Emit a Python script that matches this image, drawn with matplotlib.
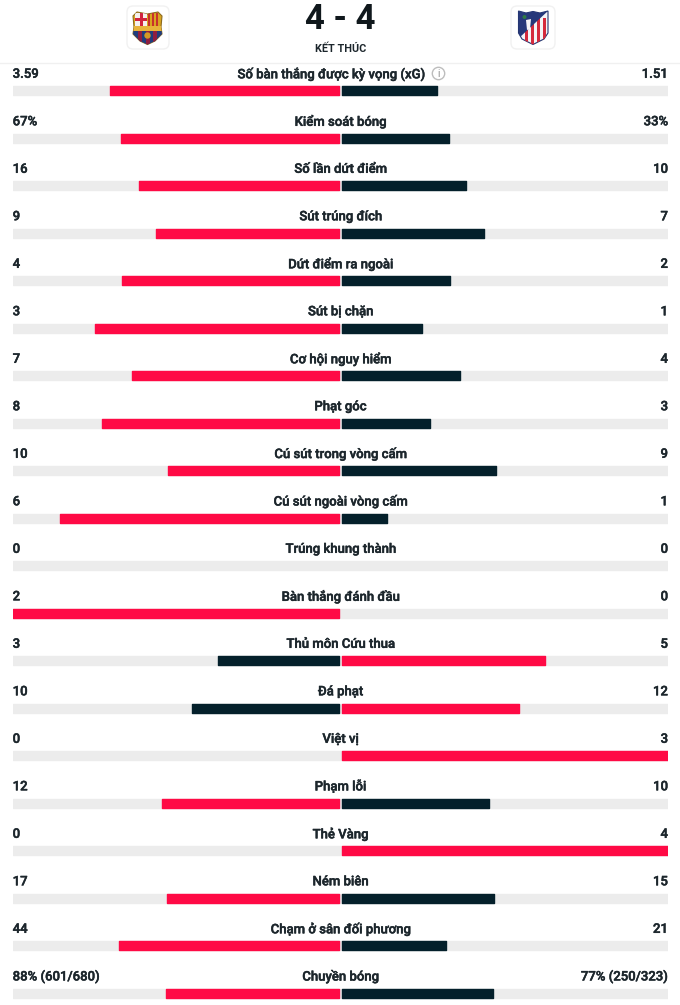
import matplotlib
matplotlib.use("Agg")
import matplotlib.pyplot as plt
import matplotlib.patheffects as pe
from matplotlib.patches import FancyBboxPatch, Polygon, Circle, Rectangle

plt.rcParams['font.family'] = ['Roboto', 'DejaVu Sans']

W, H = 680, 1005
categories = ["Số bàn thắng được kỳ vọng (xG)", "Kiểm soát bóng", "Số lần dứt điểm", "Sút trúng đích",
              "Dứt điểm ra ngoài", "Sút bị chặn", "Cơ hội nguy hiểm", "Phạt góc", "Cú sút trong vòng cấm",
              "Cú sút ngoài vòng cấm", "Trúng khung thành", "Bàn thắng đánh đầu", "Thủ môn Cứu thua", "Đá phạt",
              "Việt vị", "Phạm lỗi", "Thẻ Vàng", "Ném biên", "Chạm ở sân đối phương", "Chuyền bóng"]
home_values = [3.59, 67, 16, 9, 4, 3, 7, 8, 10, 6, 0, 2, 3, 10, 0, 12, 0, 17, 44, 88]
away_values = [1.51, 33, 10, 7, 2, 1, 4, 3, 9, 1, 0, 0, 5, 12, 3, 10, 4, 15, 21, 77]
home_labels = ["3.59", "67%", "16", "9", "4", "3", "7", "8", "10", "6", "0", "2", "3", "10", "0", "12", "0", "17", "44", "88% (601/680)"]
away_labels = ["1.51", "33%", "10", "7", "2", "1", "4", "3", "9", "1", "0", "0", "5", "12", "3", "10", "4", "15", "21", "77% (250/323)"]
home_score, away_score = 4, 4
status = "KẾT THÚC"

RED, DARK, TRACK, INK = "#ff0a45", "#04202b", "#ececec", "#1c262c"

fig = plt.figure(figsize=(W / 100, H / 100), dpi=100, facecolor="white")

# Page-level decoration drawn in pixel coordinates
bg = fig.add_axes([0, 0, 1, 1])
bg.set_xlim(0, W); bg.set_ylim(H, 0); bg.axis("off")
bg.plot([0, W], [62.5, 62.5], color="#f0f0f0", lw=1)
bg.text(340, 19.5, f"{home_score} - {away_score}", ha="center", va="center", fontsize=25,
        fontweight="bold", color="#10181c")
bg.text(340.5, 49, status, ha="center", va="center", fontsize=7.8, fontweight="bold", color=INK)

def card(x0, x1):
    bg.add_patch(FancyBboxPatch((x0 + 5, 11), x1 - x0 - 10, 33, boxstyle="round,pad=5,rounding_size=6",
                                fc="white", ec="#f1f1f1", lw=1))
card(127, 169)
card(511, 555)

def clipped(patch, clip):
    bg.add_patch(patch)
    patch.set_clip_path(clip)

# Barcelona crest
fcb = Polygon([(133, 16), (137, 12), (147.5, 14), (158, 12), (162, 16), (161, 27), (162, 34), (155, 41),
               (147.5, 44.5), (140, 41), (133, 34), (134, 27)], closed=True, fc="#d9a520", ec="#8c6a1e", lw=0.8)
bg.add_patch(fcb)
clipped(Rectangle((135, 13), 12, 14, fc="#f5f0ee", ec="none"), fcb)
clipped(Rectangle((139.5, 13), 3, 14, fc="#d1233f", ec="none"), fcb)
clipped(Rectangle((135, 18), 12, 3, fc="#d1233f", ec="none"), fcb)
for x in (148, 152, 156):
    clipped(Rectangle((x, 13), 2, 14, fc="#c8322b", ec="none"), fcb)
clipped(Rectangle((133, 26), 29, 4.5, fc="#e8b33a", ec="none"), fcb)
clipped(Rectangle((133, 30.5), 29, 14, fc="#1f3c7c", ec="none"), fcb)
for x in (138, 146, 153):
    clipped(Rectangle((x, 30.5), 4, 14, fc="#8f1d3f", ec="none"), fcb)
bg.add_patch(Circle((147.5, 35.5), 3.2, fc="#d29a26", ec="none"))

# Atletico crest
atm = Polygon([(518.5, 11), (526, 13), (533, 11.5), (540, 13), (548, 11), (548, 33), (544, 39),
               (533, 44.5), (522, 39), (518.5, 33)], closed=True, fc="#f4f4f6", ec="#24356f", lw=0.8)
bg.add_patch(atm)
for x in (525, 531, 537, 543):
    clipped(Rectangle((x, 18), 3, 28, fc="#d52a3c", ec="none"), atm)
clipped(Polygon([(518, 10), (549, 10), (519, 38)], closed=True, fc="#26387a", ec="none"), atm)
clipped(Polygon([(526, 20), (531, 19), (530, 29), (527, 30)], closed=True, fc="#f4f4f6", ec="none"), atm)
clipped(Circle((524.5, 17), 2, fc="#2f7a45", ec="none"), atm)

# xG info icon
bg.add_patch(Circle((438.5, 73.5), 6.2, fc="white", ec="#bdbdbd", lw=1))
bg.text(438.5, 73.5, "i", ha="center", va="center", fontsize=7, color="#8a8a8a")

# Statistic rows on the library's own scale
row_h = 47.5
top_px = 91 - row_h * 0.5
n = len(categories)
ax = fig.add_axes([13 / W, 1 - (top_px + n * row_h) / H, 655 / W, n * row_h / H])
ax.set_xlim(-1, 1); ax.set_ylim(n - 0.5, -0.5); ax.axis("off"); ax.patch.set_alpha(0)

rows = list(range(n))
gap = 1.1 / 327.5
bar_h = 9.0 / row_h
kw = dict(height=bar_h, lw=1.0, capstyle="round", joinstyle="round")
ax.barh(rows, [2] * n, left=-1, color=TRACK, edgecolor=TRACK, **kw)
for i, (h, a) in enumerate(zip(home_values, away_values)):
    total = h + a
    if total == 0:
        continue
    if h:
        c = RED if h > a else DARK
        ax.barh(i, -(h / total - gap), left=-gap, color=c, edgecolor=c, **kw)
    if a:
        c = RED if a > h else DARK
        ax.barh(i, a / total - gap, left=gap, color=c, edgecolor=c, **kw)

label_off = -16.7 / row_h
fatten = [pe.withStroke(linewidth=0.35, foreground=INK)]
for i, name in enumerate(categories):
    y = i + label_off
    xc = -0.029 if i == 0 else 0
    for x, s, ha in ((xc, name, "center"), (-1.001, home_labels[i], "left"), (1, away_labels[i], "right")):
        ax.text(x, y, s, ha=ha, va="center", fontsize=9.45, fontweight="medium", color=INK, path_effects=fatten)

fig.savefig("out.png", dpi=100, facecolor="white")
